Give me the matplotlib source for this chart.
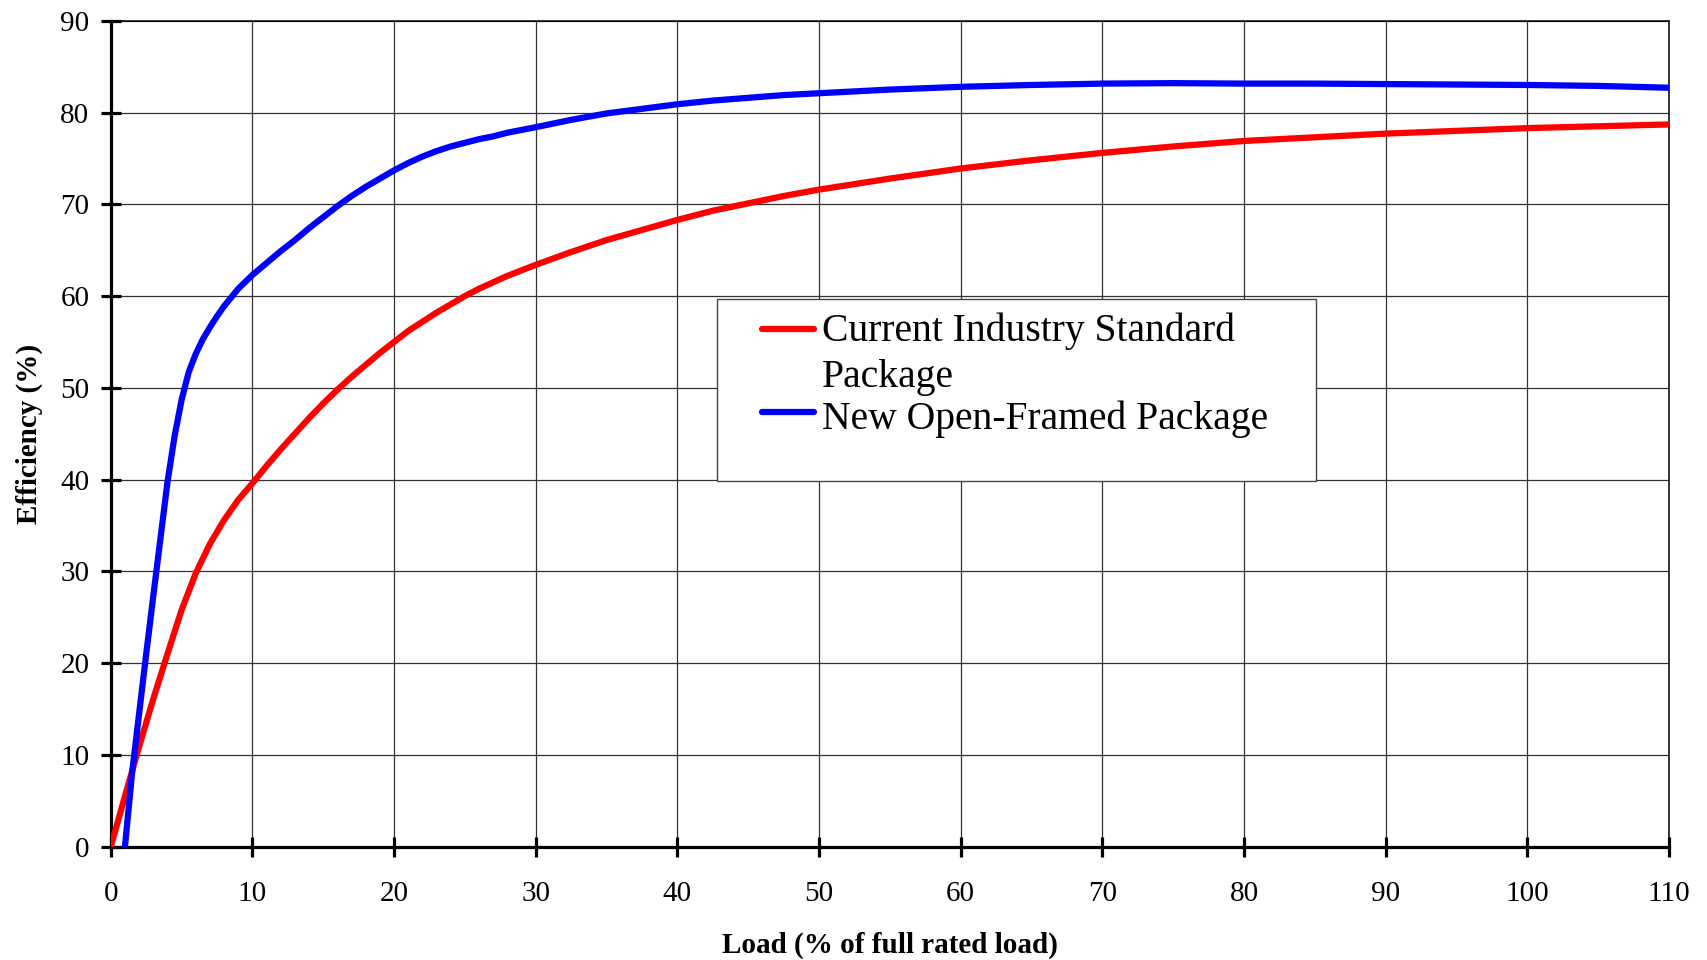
import matplotlib
matplotlib.use("Agg")
import matplotlib.pyplot as plt
import matplotlib.patches as mpatches

plt.rcParams['font.family'] = ['Liberation Serif', 'DejaVu Serif']

# values
current_load = [0, 1, 2, 3, 4, 5, 6, 7, 8, 9, 10, 11, 12, 13, 14, 15, 16, 17, 18, 19, 20,
                21, 22, 23, 24, 25, 26, 27, 28, 29, 30, 32.5, 35, 37.5, 40, 42.5, 45, 47.5,
                50, 55, 60, 65, 70, 75, 80, 85, 90, 95, 100, 105, 110]
current_eff = [0, 5.5, 10.9, 16.1, 21, 25.8, 29.8, 33.0, 35.6, 37.8, 39.6, 41.5, 43.3, 45.0,
               46.7, 48.3, 49.8, 51.2, 52.5, 53.8, 55.0, 56.2, 57.2, 58.2, 59.1, 60.0, 60.8,
               61.5, 62.2, 62.8, 63.4, 64.8, 66.1, 67.2, 68.3, 69.3, 70.1, 70.9, 71.6, 72.8,
               73.9, 74.8, 75.6, 76.3, 76.9, 77.3, 77.7, 78.0, 78.3, 78.5, 78.7]

open_load = [1.0, 1.5, 2, 2.5, 3, 3.5, 4, 4.5, 5, 5.5, 6, 6.5, 7, 7.5, 8, 9, 10, 11, 12, 13,
             14, 15, 16, 17, 18, 19, 20, 21, 22, 23, 24, 25, 26, 27, 28, 29, 30, 32.5, 35,
             37.5, 40, 42.5, 45, 47.5, 50, 52.5, 55, 57.5, 60, 65, 70, 75, 80, 85, 90, 95,
             100, 105, 110]
open_eff = [0, 8, 14.5, 21, 27.3, 33.5, 39.7, 44.7, 48.7, 51.7, 53.7, 55.3, 56.6, 57.8, 58.9,
            60.8, 62.3, 63.6, 64.9, 66.1, 67.4, 68.6, 69.8, 70.9, 71.9, 72.8, 73.7, 74.5,
            75.2, 75.8, 76.3, 76.7, 77.1, 77.4, 77.8, 78.1, 78.4, 79.2, 79.9, 80.4, 80.9,
            81.3, 81.6, 81.9, 82.1, 82.3, 82.5, 82.65, 82.8, 83.0, 83.15, 83.2, 83.15,
            83.15, 83.1, 83.05, 83.0, 82.9, 82.7]

labels = ["Current Industry Standard\nPackage", "New Open-Framed Package"]

fig = plt.figure(figsize=(17.07, 9.6), dpi=100)
ax = fig.add_axes([0.0649, 0.118, 0.9128, 0.8604])

ax.plot(current_load, current_eff, color='#ff0000', linewidth=4.5, label=labels[0],
        solid_joinstyle='round', zorder=3)
ax.plot(open_load, open_eff, color='#0000ff', linewidth=4.5, label=labels[1],
        solid_joinstyle='round', zorder=3)

ax.set_xlim(0, 110)
ax.set_ylim(0, 90)
ax.set_xticks(range(0, 111, 10))
ax.set_yticks(range(0, 91, 10))
ax.grid(True, color='#333333', linewidth=0.9)
ax.set_axisbelow(True)

ax.spines['left'].set_linewidth(2.3)
ax.spines['bottom'].set_linewidth(2.3)
ax.spines['top'].set_linewidth(1.1)
ax.spines['right'].set_linewidth(1.1)
ax.tick_params(direction='inout', length=15, width=2.3, labelsize=21, top=False, right=False)
ax.tick_params(axis='x', pad=17)
ax.tick_params(axis='y', pad=8)

ax.set_xlabel('Load (% of full rated load)', fontsize=21, fontweight='bold', labelpad=18)
ax.set_ylabel('Efficiency (%)', fontsize=21, fontweight='bold', labelpad=12)

# legend box
box = mpatches.Rectangle((717 / 1707, 1 - 481 / 960), 599 / 1707, 182 / 960,
                         transform=fig.transFigure, facecolor='white',
                         edgecolor='#444444', linewidth=1.0, zorder=4, clip_on=False)
ax.add_patch(box)
leg = ax.legend(loc='upper left', bbox_to_anchor=(762 / 1707, 1 - 312 / 960),
                bbox_transform=fig.transFigure, frameon=False, fontsize=28.5,
                borderpad=0, borderaxespad=0, handlelength=1.32, handletextpad=0.2,
                labelspacing=0.11)
leg.set_zorder(5)
leg.get_texts()[0].set_linespacing(1.35)
for line in leg.get_lines():
    line.set_linewidth(4.5)
    line.set_solid_capstyle('round')
# put the first handle on the first text line
first, second = leg.get_lines()
first.set_ydata([y + 18 for y in first.get_ydata()])
second.set_ydata([y + 2.4 for y in second.get_ydata()])

fig.savefig('out.png', dpi=100)
